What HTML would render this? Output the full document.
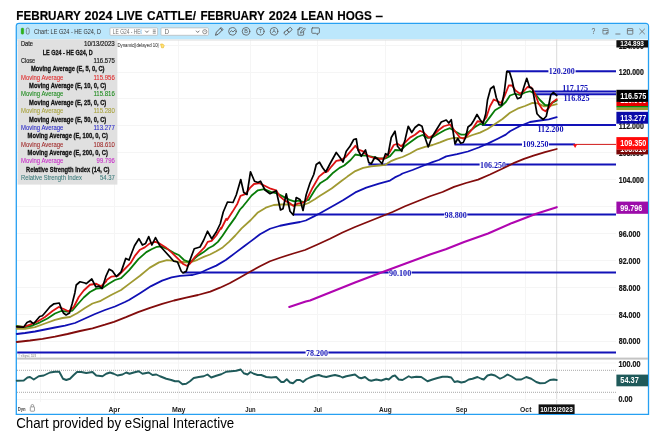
<!DOCTYPE html>
<html lang="en"><head><meta charset="utf-8"><title>February 2024 Live Cattle / Lean Hogs</title>
<style>
html,body{margin:0;padding:0;background:#fff;}
body{width:665px;height:443px;overflow:hidden;position:relative;font-family:"Liberation Sans",sans-serif;}
svg{position:absolute;left:0;top:0;display:block;will-change:transform;}
svg text{font-family:"Liberation Sans",sans-serif;}
.b{font-weight:bold;}
</style></head><body>
<svg width="665" height="443" viewBox="0 0 665 443">

<text class="b" y="19.7" font-size="13.3" fill="#000" stroke="#000" stroke-width="0.18"><tspan x="16.3" textLength="64.2" lengthAdjust="spacingAndGlyphs">FEBRUARY</tspan> <tspan x="84.4" textLength="28.1" lengthAdjust="spacingAndGlyphs">2024</tspan> <tspan x="116.6" textLength="25.9" lengthAdjust="spacingAndGlyphs">LIVE</tspan> <tspan x="146.9" textLength="49.1" lengthAdjust="spacingAndGlyphs">CATTLE/</tspan> <tspan x="200.5" textLength="64.0" lengthAdjust="spacingAndGlyphs">FEBRUARY</tspan> <tspan x="268.7" textLength="28.0" lengthAdjust="spacingAndGlyphs">2024</tspan> <tspan x="300.9" textLength="32.4" lengthAdjust="spacingAndGlyphs">LEAN</tspan> <tspan x="337.2" textLength="34.6" lengthAdjust="spacingAndGlyphs">HOGS</tspan> <tspan x="375.6" textLength="7.5" lengthAdjust="spacingAndGlyphs">–</tspan></text>
<text x="16.2" y="427.8" font-size="14" fill="#000" textLength="218" lengthAdjust="spacingAndGlyphs">Chart provided by eSignal Interactive</text>
<path d="M16.3 414.4 V26.2 a2.7 2.7 0 0 1 2.7 -2.7 H645.8 a2.7 2.7 0 0 1 2.7 2.7 V414.4 Z" fill="#fff" stroke="#26a0f2" stroke-width="1.3"/>
<path d="M16.95 39.3 V26.2 a2 2 0 0 1 2 -2 H645.9 a2 2 0 0 1 2 2 V39.3 Z" fill="#bce7fc"/>
<g stroke="#f5f5f5" stroke-width="1" shape-rendering="crispEdges">
<line x1="40.0" y1="39.5" x2="40.0" y2="402"/>
<line x1="114.3" y1="39.5" x2="114.3" y2="402"/>
<line x1="178.7" y1="39.5" x2="178.7" y2="402"/>
<line x1="250.5" y1="39.5" x2="250.5" y2="402"/>
<line x1="317.6" y1="39.5" x2="317.6" y2="402"/>
<line x1="385.4" y1="39.5" x2="385.4" y2="402"/>
<line x1="461.5" y1="39.5" x2="461.5" y2="402"/>
<line x1="525.7" y1="39.5" x2="525.7" y2="402"/>
<line x1="17" y1="45.1" x2="616" y2="45.1"/>
<line x1="17" y1="72.0" x2="616" y2="72.0"/>
<line x1="17" y1="98.9" x2="616" y2="98.9"/>
<line x1="17" y1="125.8" x2="616" y2="125.8"/>
<line x1="17" y1="152.7" x2="616" y2="152.7"/>
<line x1="17" y1="179.6" x2="616" y2="179.6"/>
<line x1="17" y1="206.5" x2="616" y2="206.5"/>
<line x1="17" y1="233.4" x2="616" y2="233.4"/>
<line x1="17" y1="260.3" x2="616" y2="260.3"/>
<line x1="17" y1="287.2" x2="616" y2="287.2"/>
<line x1="17" y1="314.1" x2="616" y2="314.1"/>
<line x1="17" y1="341.0" x2="616" y2="341.0"/>
</g>
<line x1="556.7" y1="39.5" x2="556.7" y2="404" stroke="#dadada" stroke-width="1"/>
<rect x="17.2" y="357.6" width="630.8" height="2" fill="#c4c4c4"/>
<line x1="17.2" y1="40" x2="616" y2="40" stroke="#dcdcdc" stroke-width="1"/>
<g stroke="#1212b8" stroke-width="2" fill="none">
<line x1="507" y1="71.3" x2="548.4" y2="71.3"/>
<line x1="575.6" y1="71.3" x2="616" y2="71.3"/>
<line x1="532" y1="91.6" x2="616" y2="91.6"/>
<line x1="533" y1="94.3" x2="616" y2="94.3"/>
<line x1="482" y1="124.9" x2="616" y2="124.9"/>
<line x1="454.5" y1="144.4" x2="522" y2="144.4"/>
<line x1="549" y1="144.4" x2="575" y2="144.4"/>
<line x1="368.5" y1="164.5" x2="479.6" y2="164.5"/>
<line x1="506.2" y1="164.5" x2="616" y2="164.5"/>
<line x1="293.5" y1="214.6" x2="444.2" y2="214.6"/>
<line x1="467.3" y1="214.6" x2="616" y2="214.6"/>
<line x1="183.5" y1="272.6" x2="388.6" y2="272.6"/>
<line x1="411.6" y1="272.6" x2="616" y2="272.6"/>
<line x1="17.2" y1="352.6" x2="305.6" y2="352.6"/>
<line x1="328.4" y1="352.6" x2="616" y2="352.6"/>
</g>
<line x1="575" y1="144.4" x2="616" y2="144.4" stroke="#d01818" stroke-width="1"/>
<path d="M572.9 144.2 h4.4 l-2.2 3.8 z" fill="#ff1010"/>
<g font-size="8.6" fill="#1212b8" font-weight="bold" style="font-family:'Liberation Serif',serif">
<text x="548.8" y="74.3" textLength="26" lengthAdjust="spacingAndGlyphs" style="font-family:'Liberation Serif',serif">120.200</text>
<text x="562.2" y="91.0" textLength="26" lengthAdjust="spacingAndGlyphs" style="font-family:'Liberation Serif',serif">117.175</text>
<text x="563.5" y="100.6" textLength="26" lengthAdjust="spacingAndGlyphs" style="font-family:'Liberation Serif',serif">116.825</text>
<text x="537.5" y="131.6" textLength="26" lengthAdjust="spacingAndGlyphs" style="font-family:'Liberation Serif',serif">112.200</text>
<text x="522.5" y="147.4" textLength="26" lengthAdjust="spacingAndGlyphs" style="font-family:'Liberation Serif',serif">109.250</text>
<text x="480" y="167.5" textLength="26" lengthAdjust="spacingAndGlyphs" style="font-family:'Liberation Serif',serif">106.250</text>
<text x="444.6" y="217.6" textLength="22.3" lengthAdjust="spacingAndGlyphs" style="font-family:'Liberation Serif',serif">98.800</text>
<text x="389" y="275.6" textLength="22.2" lengthAdjust="spacingAndGlyphs" style="font-family:'Liberation Serif',serif">90.100</text>
<text x="306" y="355.6" textLength="22" lengthAdjust="spacingAndGlyphs" style="font-family:'Liberation Serif',serif">78.200</text>
</g>
<polyline points="289.25,307 305.75,301.5 310,300.5 330,292.5 355,282.5 380,273 405,263.75 430,254.5 445.75,249.2 464.1,241.9 488.1,233.5 512.2,222.9 536.2,213.8 556.75,207.2" fill="none" stroke="#b005b0" stroke-width="2.1" stroke-linejoin="round" stroke-linecap="round"/>
<polyline points="16.75,342 30,340.5 42.5,338.8 55,336.7 67.5,334 80,331 92.5,328.3 105,324.7 114,321.8 126,317.2 138.1,312.2 150,307.8 162.2,303.8 174,300.5 186.2,297.7 198,295 210.3,291.7 220,287.7 229.6,283.3 240,277.5 250,271.8 260,266.25 270,261.25 280,257.75 292.5,253.75 305,250 317.5,244.5 330,238.75 342.5,232.5 355,227 367.5,222 380,217 392.5,212 405,206.25 417.5,201.25 430,196.25 442.5,192 454,186.9 466,183 478.1,179.6 490,174.5 502.2,168.8 514.2,162.8 524,158.8 533.5,155.6 545,152.2 556.75,149" fill="none" stroke="#820c0c" stroke-width="1.8" stroke-linejoin="round" stroke-linecap="round"/>
<polyline points="16.75,334 25,333 35,331.5 45,329.5 55,327.5 65,325.6 75,323 85,318.5 95,314 105,310 115,306.5 125,302 129,300 140,293.2 151.1,286.1 162.1,280.6 171.6,277.4 180,275.9 190,275.2 192.5,275 200,273 206.1,270 216.3,265.6 225.8,260 235.3,252.9 244.8,245.8 250,241.9 260,234.3 270,228.75 280,225.75 290,223.75 300,222 305.75,220.5 314,216.4 320,213.2 328,208.8 336,204.2 343.4,200 355.3,192.4 366.3,187.7 379,183.7 390,180.6 394.8,177.4 400,175 402.5,173.5 412.5,170 422.5,166 432.5,162.2 438.8,160 446.2,156.4 457.1,154.2 467.9,151.5 478.7,147.5 488.2,143.4 497.7,138.7 505.8,134.6 510,131.2 520,126 530,122 540,120.5 548.75,119.3 556.75,117.2" fill="none" stroke="#1010b4" stroke-width="1.8" stroke-linejoin="round" stroke-linecap="round"/>
<polyline points="16.75,328.8 25,328.8 35,327.2 45,323.5 55,319.8 62.5,318 70,317 77.5,313 85,308 92.5,303.5 100,301.2 102.1,300 111.6,294.8 121.1,290 130.5,282.9 140,275.8 149.5,267.9 159,262.4 166.9,260.2 174.8,260.8 180,262.6 182.5,262 190,262.5 197.5,259.8 203.7,256.9 210,254.5 216.3,251.3 222.7,247.4 229,241.9 235.3,235.5 241.6,228.4 250.8,220 257.9,212.4 265.8,207.7 273.7,205 281.6,204.5 289.5,204.5 295.8,205.3 302.1,205.3 308.5,203 314.8,199.3 320,195.8 323.7,193.5 331.6,188.5 341.1,181.3 347.4,176.6 355.3,171.1 363.2,167.9 371.1,166.3 379,165.5 385.3,164.8 391.6,160.8 396.4,158.8 402.5,157 410,153.5 417.5,149.3 425,146.8 432.5,145 440,142.3 447.5,139.3 453.75,137.9 460,137.9 465,137.9 472.5,135 480,132.6 487.5,129 495,124 502.5,119 510,112.8 517.5,108.7 525,106 532.5,102.8 538,103.4 544.3,106.4 550,105.8 556.75,104.2" fill="none" stroke="#a09a32" stroke-width="1.8" stroke-linejoin="round" stroke-linecap="round"/>
<polyline points="16.75,326 25,327.2 32.5,325.5 40,322.3 47.5,318.5 55,313.5 61.25,311 67.5,311.7 72.5,310.5 77.5,304.5 83.75,297.5 90,292 96.25,288.6 102.5,288 108.75,283.75 115,280 121.1,278.2 129,270.3 138.4,259.2 146.3,252.1 152,249 157,246.8 161,246.3 167,248.8 173.7,252.7 179.2,255.3 184,260 187.9,261.6 191.9,260.8 197.4,256.1 203.7,252.1 208.5,248.2 213.2,245.8 217.9,241.9 222.7,235.5 229,226.1 235.3,217.4 240,209.5 243,206.3 246.9,201.5 251.6,195.5 257.9,190.3 264.2,189.2 270.6,191.9 276.9,193.4 283.2,196.6 289.5,199.8 294.2,201.3 299,200.6 303.7,202.1 308.5,199.5 308.7,200 315.8,188.5 320.5,182.9 326.9,179 333.2,172.7 339.5,167.9 344.2,165.5 350.6,160 355.3,154.5 360,155.3 366.3,155.6 372.7,156.9 379,158.4 385.3,158.4 390,156.1 394.8,150.5 395,150 400.5,150.3 405,146 411.25,141.6 417.5,137 422.5,135 427.5,137.9 432.5,137.3 438.75,133.5 445,130 450,128.2 456.25,132 461.25,134.7 465,134.7 470,131 475,127 480,123.9 484.1,124.8 489.5,117.6 495,110.2 500.4,107 505.8,102 510,95.5 515,93.75 520,95 525,92.5 530,91.25 535,93.75 540,100 545,105 548.75,105.2 552.5,102.6 556.75,100.4" fill="none" stroke="#087c08" stroke-width="1.8" stroke-linejoin="round" stroke-linecap="round"/>
<polyline points="16.75,326.6 23.75,327 30,324.6 37.5,321.5 45,317 52.5,311 58.75,307 63.75,309 68.75,311.5 73.75,307 78.75,297 83.75,290.5 90,284.75 96.25,283.75 101.25,286.25 106.25,281.25 106.9,279.8 111.6,276.6 117.9,275.8 124.2,269.5 130.5,263.2 135.3,255.3 140,249.7 144.8,247.4 149.5,243.6 154.2,242 155.5,241.9 159.5,243.4 165.8,247.4 172.1,252.9 178.4,259.2 183.2,264 187.1,266 190.3,263.2 195,256.9 200.6,251.3 204.5,247.4 207.7,241.9 211.6,240.8 216.3,235.5 221.1,227.6 221.25,228.75 226.25,218.75 227.1,220 232.6,211.6 237.4,203.7 240.5,195.8 245.3,194.2 250,187.9 254,184 259.5,183.2 264.2,185.5 270.6,188.7 276.1,190.3 280,196.6 284.8,200.6 289.5,202.9 293.5,206.1 297.4,203.7 302.1,202.9 305.3,201.3 307.5,198 312.6,187.7 319,176.6 323.7,172.7 327.6,171.4 331.6,166.3 336.3,160.8 341.1,160 345.8,156.9 350.6,151.3 355.3,145.8 358.5,149.7 363.2,151.3 363.75,152.5 368.75,156.25 373.75,158 378.75,158.75 383.75,158.75 388.75,153.75 393.75,145 397.5,143.75 401.25,146.25 405,142.5 410,137.6 415,134.8 420,130.8 423.75,132.5 428.75,137.7 433.75,135 438.75,130 443.75,126.25 450,124.5 455,131.25 460,137.5 463.75,138.75 467.5,135 472.5,128.75 477.5,121.25 482.5,122 486.25,117.5 490,106.25 493.75,99.5 497.5,101.2 501.25,103 505,95 508.75,85.5 512,85.5 515.5,90.5 520,93.75 523.75,91.25 527.5,87 531.25,87.5 535,93.75 538.75,103.75 542.5,109.5 545.5,111.25 548.75,108 552.5,102.3 556.75,99.3" fill="none" stroke="#dc1414" stroke-width="1.8" stroke-linejoin="round" stroke-linecap="round"/>
<polyline points="16.75,326.8 23.5,327.2 27,322.5 30.2,321 33.6,323.8 39.7,316.5 42.4,315.8 45,312.8 50,306.8 54,303.8 59.3,303 61.4,308.9 63.4,313 66.1,315 69.5,313 72.2,303.5 74.9,292.7 76.25,285 80,281.75 85,283 86.3,283.7 91.8,279 95.8,286.9 99,286.1 102.1,288.5 106.1,275.8 109.2,269.2 112.4,271.1 116.3,276.6 121.1,271.9 125.8,258.4 129,260 134.5,245.8 138.9,238.7 142.4,245 145.6,243.4 148.7,236.6 151.9,245 155.5,237.6 160,246 165,251.5 170,257 173.75,261.25 177.5,262 181.25,271.25 183,273 186.25,271.25 190,260 194.25,248.75 200,247 203.75,240 207.5,231.25 211.75,238.75 216.25,232 220.25,223.75 223.25,212 227.5,202 233,202.5 236.25,195 240.75,179.5 243.75,192.5 247,194.5 250.5,171.75 254.5,181.25 258,182.5 260.5,181.25 265,190 270,193.75 276.25,190.75 280.5,210 283,208.75 286.25,193.75 290,211.25 293.25,215 296.25,197.5 300,199.5 303,210.5 306.25,194.5 310,183 313.75,174.5 316.25,164.5 319.5,162.25 322.5,167.5 325.75,172 330,163.75 336.25,152.5 340,157.5 343,162 346.25,151.25 350,146.25 353.75,139.5 356.25,138.75 358,150 361.25,156.25 365.5,150 368.75,162.5 371.25,163.75 375,157 378.75,160 382,163.75 385.5,153.75 388,155 391.25,137.5 395,131.25 397.5,146.25 401.75,151.25 405,140 408.25,126.25 411.75,132.5 415,127.5 418.75,124.5 422,126.25 425,137.5 428.25,147 431.75,137.5 436.25,130 441.25,122 446.25,120 448.75,123 451.25,119.75 453,131 455,143.75 457.75,138.5 460.75,143.25 463.25,142.5 465.5,137.75 468,127 471.25,124.5 473.75,120.5 477,114.5 480,119.5 483,123.75 485.75,113.75 487.5,100 490.5,88.75 493.75,86.25 496.25,97.5 499.25,105 501.75,105 504.25,92.5 506.8,71.3 509.5,72 512,80 514.7,92.5 517.5,98.75 520.75,97.5 523.75,87.5 526.75,78.25 529.5,87 532.5,88.75 535,102.5 537,113.75 540,117 543.25,119.5 546.25,116.25 548.75,105 550.75,95 553.25,92.5 556.75,95.5" fill="none" stroke="#000" stroke-width="1.7" stroke-linejoin="round" stroke-linecap="round"/>
<line x1="17" y1="363" x2="616" y2="363" stroke="#f5f5f5"/><line x1="17" y1="399.5" x2="616" y2="399.5" stroke="#f5f5f5"/>
<g stroke="#909090" stroke-width="0.8" stroke-dasharray="1 1">
<line x1="17" y1="370.3" x2="616" y2="370.3"/><line x1="17" y1="392.3" x2="616" y2="392.3"/>
</g>
<polyline points="16.75,380.7 23.75,380.5 27.5,377.5 30,377 33.75,379.5 38.75,376.25 43.75,375.5 50,372.5 55,371.75 59.25,371.75 63,378.75 66.25,380 70,378.75 73.75,375 77,372 81.25,372 86.25,373 92.5,372 96.25,375.5 102.5,376.25 106.25,373.75 110,372.5 113.75,373.75 117.5,375.5 122.5,374.5 126.25,372.5 129.5,373.75 133.75,372.5 138.75,371.25 142.5,373.75 148.75,372.5 152.5,375 156.25,374.5 160,376.25 166.25,378.75 171.25,380 175,381.25 178.75,381.25 182.5,384.25 186.25,383.75 190,381.25 193.75,378 198.75,377 203.75,376.25 207.5,374.5 211.25,377.5 216.25,375.75 221.25,374.25 226.25,371.75 231.25,371.25 236.25,370.75 240.75,369.5 243.75,373.25 247.5,374.5 250.5,372 253.75,373.75 257.5,375 261.25,375 266.25,377 271.25,377.5 276.25,377 281.25,382 283.75,382 286.75,379.25 290,382.5 293,383.25 296.75,380 300,380 303,382 306.25,379.25 310,377.5 315,375.75 318.75,375 322.5,376.25 326.25,377 331.25,375.75 335,375 340,376.25 342.5,377.5 346.25,376.25 350,375.5 355,374.5 358.75,377.5 361.25,378.25 365,377 368.75,380 371.25,380.75 376.25,379.5 381.25,380.5 386.25,378.75 388.75,379.5 392.5,376.25 395,375.5 398.75,379.5 402.5,380 408.75,376.25 411.25,377.5 416.25,376.75 421.25,377 427.5,381.25 432.5,379.5 437.5,378 442.5,376.75 447.5,376.75 451.25,377.5 454.5,382 457.5,381.25 461.25,382.5 465,381.75 468.75,379.5 472.5,378.75 477.5,377 481.25,378.75 483.75,379.5 487.5,375.5 491.25,374.5 495,375.5 500,378.75 503.75,377 507.5,374.5 511.25,376.25 516.25,379.5 521.25,379.5 526.25,377 531.25,378.75 536.25,382 540,383.25 545,383 550,380 553.75,379.5 556.75,380" fill="none" stroke="#1f5a5a" stroke-width="1.9" stroke-linejoin="round" stroke-linecap="round"/>
<g font-size="8.2" fill="#161616" stroke="#161616" stroke-width="0.22" class="b">
<text class="b" x="618.8" y="48.5" textLength="25" lengthAdjust="spacingAndGlyphs">124.000</text>
<text class="b" x="618.8" y="75.3" textLength="25" lengthAdjust="spacingAndGlyphs">120.000</text>
<text class="b" x="618.8" y="102.2" textLength="25" lengthAdjust="spacingAndGlyphs">116.000</text>
<text class="b" x="618.8" y="129.2" textLength="25" lengthAdjust="spacingAndGlyphs">112.000</text>
<text class="b" x="618.8" y="156.0" textLength="25" lengthAdjust="spacingAndGlyphs">108.000</text>
<text class="b" x="618.8" y="182.9" textLength="25" lengthAdjust="spacingAndGlyphs">104.000</text>
<text class="b" x="618.8" y="236.7" textLength="21.5" lengthAdjust="spacingAndGlyphs">96.000</text>
<text class="b" x="618.8" y="263.6" textLength="21.5" lengthAdjust="spacingAndGlyphs">92.000</text>
<text class="b" x="618.8" y="290.6" textLength="21.5" lengthAdjust="spacingAndGlyphs">88.000</text>
<text class="b" x="618.8" y="317.5" textLength="21.5" lengthAdjust="spacingAndGlyphs">84.000</text>
<text class="b" x="618.8" y="344.4" textLength="21.5" lengthAdjust="spacingAndGlyphs">80.000</text>
<text class="b" x="618.6" y="367.2" textLength="22" lengthAdjust="spacingAndGlyphs">100.00</text>
<text class="b" x="618.6" y="402.4" textLength="14" lengthAdjust="spacingAndGlyphs">0.00</text>
</g>
<rect x="616.4" y="40.2" width="31.6" height="7.3" fill="#101010"/>
<text class="b" x="620.3" y="46.2" font-size="7.0" fill="#fff" textLength="23.6" lengthAdjust="spacingAndGlyphs">124.893</text>
<rect x="616.4" y="107.4" width="31.6" height="2.7" fill="#a09a32"/>
<rect x="616.4" y="106.0" width="31.6" height="1.5" fill="#0a8a0a"/>
<clipPath id="c1"><rect x="616.4" y="101.8" width="31.6" height="4.2"/></clipPath>
<rect x="616.4" y="101.8" width="31.6" height="4.2" fill="#e60000"/>
<text class="b" clip-path="url(#c1)" x="620.3" y="102.5" font-size="8.6" fill="#fff" textLength="26" lengthAdjust="spacingAndGlyphs">115.956</text>
<rect x="616.4" y="89.8" width="31.6" height="12.1" fill="#000"/>
<text class="b" x="620.3" y="98.9" font-size="8.8" fill="#fff" textLength="26" lengthAdjust="spacingAndGlyphs">116.575</text>
<rect x="616.4" y="111.8" width="31.6" height="11.9" fill="#0a0aa8"/>
<text class="b" x="620.3" y="120.8" font-size="8.8" fill="#fff" textLength="26" lengthAdjust="spacingAndGlyphs">113.277</text>
<clipPath id="c2"><rect x="616.4" y="149.4" width="31.6" height="5.0"/></clipPath>
<rect x="616.4" y="149.4" width="31.6" height="5.0" fill="#7a0808"/>
<text class="b" clip-path="url(#c2)" x="620.3" y="151.7" font-size="8.6" fill="#fff" textLength="26" lengthAdjust="spacingAndGlyphs">108.610</text>
<rect x="616.4" y="137.1" width="31.6" height="12.5" fill="#ff0a0a"/>
<text class="b" x="620.3" y="146.4" font-size="8.8" fill="#fff" textLength="26" lengthAdjust="spacingAndGlyphs">109.350</text>
<rect x="616.4" y="201.6" width="31.6" height="12.2" fill="#9c0caa"/>
<text class="b" x="620.3" y="210.8" font-size="8.8" fill="#fff" textLength="22" lengthAdjust="spacingAndGlyphs">99.796</text>
<rect x="616.4" y="374.6" width="31.6" height="11.7" fill="#1f5a5a"/>
<text class="b" x="620.3" y="383.1" font-size="8.8" fill="#fff" textLength="18.5" lengthAdjust="spacingAndGlyphs">54.37</text>
<g font-size="8" fill="#222">
<text class="b" x="108.5" y="412.2" textLength="11.6" lengthAdjust="spacingAndGlyphs">Apr</text>
<text class="b" x="171.9" y="412.2" textLength="13.6" lengthAdjust="spacingAndGlyphs">May</text>
<text class="b" x="245.3" y="412.2" textLength="10.4" lengthAdjust="spacingAndGlyphs">Jun</text>
<text class="b" x="313.4" y="412.2" textLength="8.4" lengthAdjust="spacingAndGlyphs">Jul</text>
<text class="b" x="379.1" y="412.2" textLength="12.6" lengthAdjust="spacingAndGlyphs">Aug</text>
<text class="b" x="455.8" y="412.2" textLength="11.4" lengthAdjust="spacingAndGlyphs">Sep</text>
<text class="b" x="520.1" y="412.2" textLength="11.3" lengthAdjust="spacingAndGlyphs">Oct</text>
</g>
<rect x="538.6" y="404.4" width="36" height="9.6" fill="#111"/>
<text class="b" x="540.2" y="412" font-size="7.4" fill="#fff" textLength="32.6" lengthAdjust="spacingAndGlyphs">10/13/2023</text>
<text class="b" x="17.8" y="410.5" font-size="5.8" fill="#444" textLength="7.8" lengthAdjust="spacingAndGlyphs">Dyn</text>
<g stroke="#777" stroke-width="0.7" fill="none"><rect x="30.3" y="406.9" width="4.2" height="4.3" rx="0.5"/><path d="M31.1 406.9 v-1.1 a1.3 1.3 0 0 1 2.6 0 v1.1"/></g>
<text x="18.6" y="356.5" font-size="4.2" fill="#777" textLength="17.5" lengthAdjust="spacingAndGlyphs">© eSignal, 2023</text>
<rect x="17.6" y="39.6" width="99.8" height="145" fill="#e0e0e0"/>
<g font-size="6.9">
<text x="21" y="46.1" fill="#222" stroke="#222" stroke-width="0.2" textLength="12" lengthAdjust="spacingAndGlyphs">Date</text>
<text x="84.0" y="46.1" fill="#222" stroke="#222" stroke-width="0.2" textLength="30.8" lengthAdjust="spacingAndGlyphs">10/13/2023</text>
<text class="b" x="42.7" y="54.5" fill="#111" stroke="#111" stroke-width="0.28" textLength="50" lengthAdjust="spacingAndGlyphs">LE G24 - HE G24, D</text>
<text x="21" y="62.9" fill="#222" stroke="#222" stroke-width="0.2" textLength="14" lengthAdjust="spacingAndGlyphs">Close</text>
<text x="93.6" y="62.9" fill="#222" stroke="#222" stroke-width="0.2" textLength="21.2" lengthAdjust="spacingAndGlyphs">116.575</text>
<text class="b" x="30.9" y="71.2" fill="#111" stroke="#111" stroke-width="0.28" textLength="73.6" lengthAdjust="spacingAndGlyphs">Moving Average (E, 5, 0, C)</text>
<text x="21" y="79.6" fill="#e02828" stroke="#e02828" stroke-width="0.08" textLength="42.4" lengthAdjust="spacingAndGlyphs">Moving Average</text>
<text x="93.4" y="79.6" fill="#e02828" stroke="#e02828" stroke-width="0.08" textLength="21.4" lengthAdjust="spacingAndGlyphs">115.956</text>
<text class="b" x="29.1" y="88.0" fill="#111" stroke="#111" stroke-width="0.28" textLength="77.2" lengthAdjust="spacingAndGlyphs">Moving Average (E, 10, 0, C)</text>
<text x="21" y="96.4" fill="#1a8a1a" stroke="#1a8a1a" stroke-width="0.08" textLength="42.4" lengthAdjust="spacingAndGlyphs">Moving Average</text>
<text x="93.4" y="96.4" fill="#1a8a1a" stroke="#1a8a1a" stroke-width="0.08" textLength="21.4" lengthAdjust="spacingAndGlyphs">115.816</text>
<text class="b" x="29.1" y="104.8" fill="#111" stroke="#111" stroke-width="0.28" textLength="77.2" lengthAdjust="spacingAndGlyphs">Moving Average (E, 25, 0, C)</text>
<text x="21" y="113.1" fill="#a8a23c" stroke="#a8a23c" stroke-width="0.08" textLength="42.4" lengthAdjust="spacingAndGlyphs">Moving Average</text>
<text x="93.4" y="113.1" fill="#a8a23c" stroke="#a8a23c" stroke-width="0.08" textLength="21.4" lengthAdjust="spacingAndGlyphs">115.280</text>
<text class="b" x="29.1" y="121.5" fill="#111" stroke="#111" stroke-width="0.28" textLength="77.2" lengthAdjust="spacingAndGlyphs">Moving Average (E, 50, 0, C)</text>
<text x="21" y="129.9" fill="#2828c8" stroke="#2828c8" stroke-width="0.08" textLength="42.4" lengthAdjust="spacingAndGlyphs">Moving Average</text>
<text x="93.4" y="129.9" fill="#2828c8" stroke="#2828c8" stroke-width="0.08" textLength="21.4" lengthAdjust="spacingAndGlyphs">113.277</text>
<text class="b" x="27.6" y="138.3" fill="#111" stroke="#111" stroke-width="0.28" textLength="80.3" lengthAdjust="spacingAndGlyphs">Moving Average (E, 100, 0, C)</text>
<text x="21" y="146.7" fill="#a02828" stroke="#a02828" stroke-width="0.08" textLength="42.4" lengthAdjust="spacingAndGlyphs">Moving Average</text>
<text x="93.4" y="146.7" fill="#a02828" stroke="#a02828" stroke-width="0.08" textLength="21.4" lengthAdjust="spacingAndGlyphs">108.610</text>
<text class="b" x="27.6" y="155.0" fill="#111" stroke="#111" stroke-width="0.28" textLength="80.3" lengthAdjust="spacingAndGlyphs">Moving Average (E, 200, 0, C)</text>
<text x="21" y="163.4" fill="#c828c8" stroke="#c828c8" stroke-width="0.08" textLength="42.4" lengthAdjust="spacingAndGlyphs">Moving Average</text>
<text x="96.6" y="163.4" fill="#c828c8" stroke="#c828c8" stroke-width="0.08" textLength="18.2" lengthAdjust="spacingAndGlyphs">99.796</text>
<text class="b" x="26.0" y="171.8" fill="#111" stroke="#111" stroke-width="0.28" textLength="83.5" lengthAdjust="spacingAndGlyphs">Relative Strength Index (14, C)</text>
<text x="21" y="180.2" fill="#3a7a7a" stroke="#3a7a7a" stroke-width="0.08" textLength="61" lengthAdjust="spacingAndGlyphs">Relative Strength Index</text>
<text x="100.0" y="180.2" fill="#3a7a7a" stroke="#3a7a7a" stroke-width="0.08" textLength="14.8" lengthAdjust="spacingAndGlyphs">54.37</text>
</g>
<text x="117.4" y="47.2" font-size="4.7" fill="#1a1a1a" textLength="41.3" lengthAdjust="spacingAndGlyphs">Dynamic||delayed 10|</text>
<path d="M160.6 44 h2.2 l1.4 1.6 -0.8 2.2 h-1.8 z" fill="#ffe27a" stroke="#e0a800" stroke-width="0.5"/>
<rect x="21.1" y="27.9" width="2.7" height="6.4" rx="1.2" fill="#2fb418" stroke="#2a9a2a" stroke-width="0.3"/>
<rect x="26.3" y="28" width="2.9" height="6.2" rx="1.4" fill="none" stroke="#555" stroke-width="0.6"/>
<text x="34" y="33.9" font-size="7.3" fill="#333" textLength="67" lengthAdjust="spacingAndGlyphs">Chart: LE G24 - HE G24, D</text>
<rect x="110" y="27.9" width="47.6" height="7.4" rx="0.8" fill="#fff" stroke="#b4b4b4" stroke-width="0.7"/>
<text x="112.8" y="33.7" font-size="6.4" fill="#707070" textLength="27.8" lengthAdjust="spacingAndGlyphs">LE G24 - HE </text>
<path d="M141.3 29.6 q-1 2 0 4.2" stroke="#5aa8e0" stroke-width="0.7" fill="none"/>
<path d="M145.2 30.7 l1.7 1.8 1.7 -1.8" stroke="#555" stroke-width="0.8" fill="none"/>
<path d="M152.8 30 h3 M152.8 31.6 h3 M152.8 33.2 h3" stroke="#666" stroke-width="0.7"/>
<rect x="161" y="27.9" width="47.4" height="7.4" rx="0.8" fill="#fff" stroke="#b4b4b4" stroke-width="0.7"/>
<text x="164.4" y="33.7" font-size="6.4" fill="#707070">D</text>
<path d="M196 30.7 l1.7 1.8 1.7 -1.8" stroke="#555" stroke-width="0.8" fill="none"/>
<circle cx="204.8" cy="31.7" r="2.1" fill="none" stroke="#666" stroke-width="0.7"/><path d="M204.8 30.6 v1.2 h0.9" stroke="#666" stroke-width="0.5" fill="none"/>
<g stroke="#555" stroke-width="0.8" fill="none" stroke-linecap="round" stroke-linejoin="round">
<path d="M215.6 34.9 l0.8 -2.7 4.6 -4.7 1.9 1.9 -4.6 4.7 z M220.2 28.3 l1.9 1.9" stroke-width="0.95"/>
<circle cx="232.4" cy="31.35" r="3.8"/><path d="M230 32.2 l1.4 -1.6 1.6 1.4 1.8 -1.8"/>
<circle cx="246" cy="31.35" r="3.8"/>
<circle cx="260.3" cy="31.35" r="3.8"/>
<circle cx="274" cy="31.35" r="3.8"/>
<g transform="rotate(-40 288 31.2)"><rect x="283.6" y="29.6" width="4.6" height="3.2" rx="1"/><rect x="287.8" y="29.6" width="4.6" height="3.2" rx="1"/></g>
<path d="M303.6 31.6 v3 a0.6 0.6 0 0 1 -0.6 0.6 h-4.4 a0.6 0.6 0 0 1 -0.6 -0.6 v-5.2 l1.6 -1.6 h2.6 M298 29.6 h1.6 v-1.8 M300.6 32.8 l0.5 -1.7 3.2 -3.2 1.2 1.2 -3.2 3.2 z"/>
<path d="M312.6 27.9 h6 a0.8 0.8 0 0 1 0.8 0.8 v3.8 a0.8 0.8 0 0 1 -0.8 0.8 h-1 v1.5 l-1.7 -1.5 h-3.3 a0.8 0.8 0 0 1 -0.8 -0.8 v-3.8 a0.8 0.8 0 0 1 0.8 -0.8 z"/>
</g>
<g font-size="5.4" fill="#555" text-anchor="middle"><text x="246" y="33.3">B</text><text x="260.3" y="33.3">T</text><text x="274" y="33.3">A</text></g>
<g stroke="#666" stroke-width="0.8" fill="none">
<rect x="602.9" y="28.6" width="5.2" height="5.4" rx="0.7" stroke-width="0.7"/><path d="M602.9 30.5 h5.2 M606.4 34 v-1.5 h1.7" stroke-width="0.7"/>
<path d="M615.4 34 h5"/>
<rect x="627.4" y="28.6" width="5.4" height="5.6" rx="0.4"/><path d="M627.4 30.6 h5.4"/>
<path d="M639.4 28.8 l5.4 5.4 M644.8 28.8 l-5.4 5.4"/>
</g>
<text x="591.6" y="34.4" font-size="8.3" fill="#666" textLength="3.8" lengthAdjust="spacingAndGlyphs">?</text>
</svg>
</body></html>
